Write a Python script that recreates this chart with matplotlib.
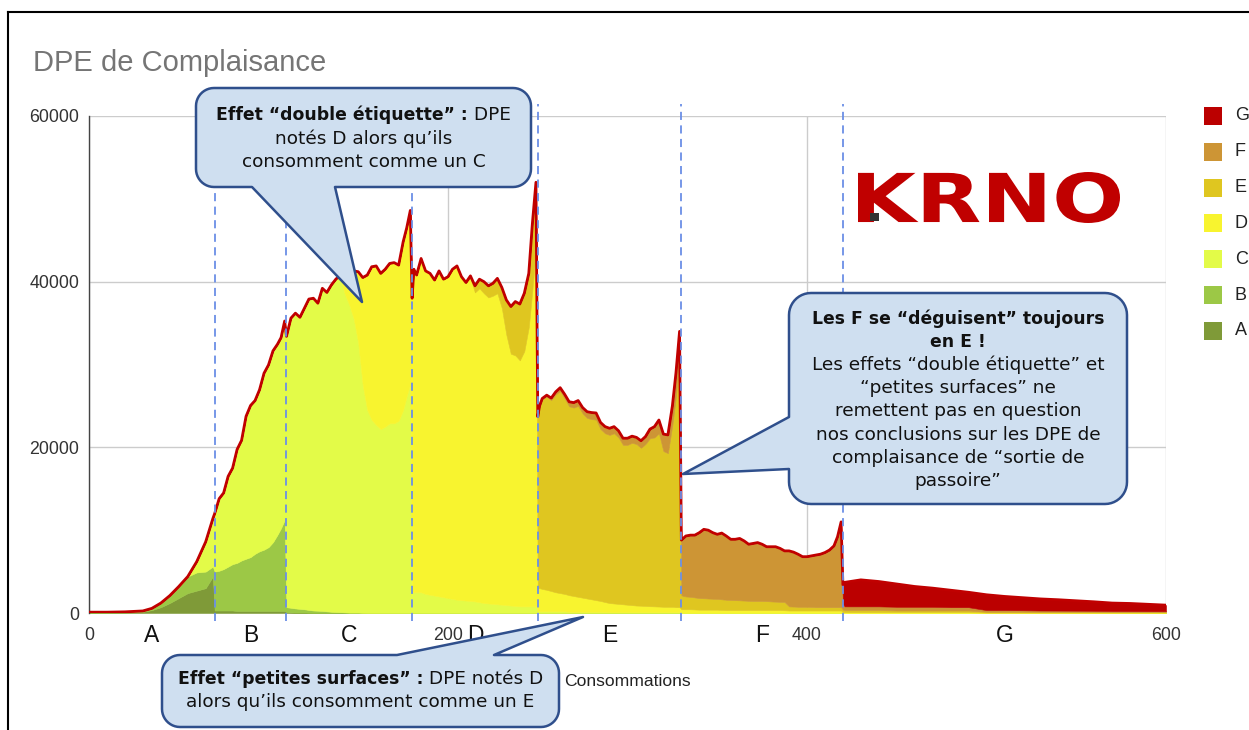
import matplotlib
matplotlib.use("Agg")
import matplotlib.pyplot as plt
import numpy as np
from matplotlib.font_manager import FontProperties
from matplotlib.lines import Line2D
from matplotlib.patches import PathPatch, Polygon, Rectangle
from matplotlib.textpath import TextPath
from matplotlib.transforms import Affine2D, blended_transform_factory

W, H = 1249, 730
BASE_FONT = "Liberation Sans"
NOTE_FONT = "DejaVu Sans"

# consumption (kWh/m2/an) and number of DPE per label, stacked A -> G
consumption = [
    0, 5, 10, 15, 20, 25, 30, 35, 40, 45, 50, 55, 60, 65, 69,
    70, 72.5, 75, 77.5, 80, 82.5, 85, 87.5, 90, 92.5, 95, 97.5, 100, 102.5, 105, 107, 109,
    110, 112.5, 115, 117.5, 120, 122.5, 125, 127.5, 130, 132.5, 135, 137.5, 140, 142.5, 145,
    147.5, 150, 152.5, 155, 157.5, 160, 162.5, 165, 167.5, 170, 172.5, 175, 177, 179,
    180, 181, 182.5, 185, 187.5, 190, 192.5, 195, 197.5, 200, 202.5, 205, 207.5, 210, 212.5,
    215, 217.5, 220, 222.5, 225, 227.5, 230, 232.5, 235, 237.5, 240, 242.5, 245, 247, 249,
    250, 251, 252.5, 255, 257.5, 260, 262.5, 265, 267.5, 270, 272.5, 275, 277.5, 280, 282.5, 285, 287.5,
    290, 292.5, 295, 297.5, 300, 302.5, 305, 307.5, 310, 312.5, 315, 317.5, 320, 322.5, 325, 327, 329,
    330, 331, 332.5, 335, 337.5, 340, 342.5, 345, 347.5, 350, 352.5, 355, 357.5, 360, 362.5, 365, 367.5, 370, 372.5,
    375, 377.5, 380, 382.5, 385, 387.5, 390, 392.5, 395, 397.5, 400, 402.5, 405, 407.5, 410, 412.5, 415, 417, 419,
    420, 421, 430, 440, 450, 460, 470, 480, 490, 500, 510, 520, 530, 540, 550, 560, 570, 580, 590, 600,
]
count_a = [
    50, 50, 50, 60, 70, 100, 150, 350, 700, 1200, 1800, 2400, 2700, 3000, 4400,
    300, 300, 300, 300, 300, 250, 250, 250, 250, 250, 250, 250, 250, 250, 250, 250, 250,
    100, 80, 50, 50, 50, 20, 0, 0, 0, 0, 0, 0, 0, 0, 0,
    0, 0, 0, 0, 0, 0, 0, 0, 0, 0, 0, 0, 0, 0,
    0, 0, 0, 0, 0, 0, 0, 0, 0, 0, 0, 0, 0, 0, 0,
    0, 0, 0, 0, 0, 0, 0, 0, 0, 0, 0, 0, 0, 0, 0,
    0, 0, 0, 0, 0, 0, 0, 0, 0, 0, 0, 0, 0, 0, 0, 0, 0,
    0, 0, 0, 0, 0, 0, 0, 0, 0, 0, 0, 0, 0, 0, 0, 0, 0,
    0, 0, 0, 0, 0, 0, 0, 0, 0, 0, 0, 0, 0, 0, 0, 0, 0, 0, 0,
    0, 0, 0, 0, 0, 0, 0, 0, 0, 0, 0, 0, 0, 0, 0, 0, 0, 0, 0,
    0, 0, 0, 0, 0, 0, 0, 0, 0, 0, 0, 0, 0, 0, 0, 0, 0, 0, 0, 0,
]
count_b = [
    50, 50, 50, 60, 70, 100, 100, 210, 500, 900, 1400, 2000, 2200, 2000, 1200,
    4700, 4800, 5000, 5300, 5600, 5800, 6100, 6300, 6500, 6900, 7200, 7400, 7700, 8300, 9200, 10000, 11000,
    600, 550, 500, 450, 400, 350, 300, 280, 250, 200, 150, 120, 100, 80, 50,
    50, 50, 20, 0, 0, 0, 0, 0, 0, 0, 0, 0, 0, 0,
    0, 0, 0, 0, 0, 0, 0, 0, 0, 0, 0, 0, 0, 0, 0,
    0, 0, 0, 0, 0, 0, 0, 0, 0, 0, 0, 0, 0, 0, 0,
    0, 0, 0, 0, 0, 0, 0, 0, 0, 0, 0, 0, 0, 0, 0, 0, 0,
    0, 0, 0, 0, 0, 0, 0, 0, 0, 0, 0, 0, 0, 0, 0, 0, 0,
    0, 0, 0, 0, 0, 0, 0, 0, 0, 0, 0, 0, 0, 0, 0, 0, 0, 0, 0,
    0, 0, 0, 0, 0, 0, 0, 0, 0, 0, 0, 0, 0, 0, 0, 0, 0, 0, 0,
    0, 0, 0, 0, 0, 0, 0, 0, 0, 0, 0, 0, 0, 0, 0, 0, 0, 0, 0, 0,
]
count_c = [
    0, 0, 0, 0, 0, 0, 0, 0, 0, 0, 0, 0, 1300, 3600, 5800,
    7000, 8700, 9200, 10900, 11600, 13700, 14500, 17200, 18300, 18500, 19500, 21300, 22000, 23100, 23000, 23000, 24000,
    32700, 34970, 35650, 35200, 36350, 37530, 37700, 37120, 38950, 38500, 39450, 40180, 40400, 38420, 37150,
    35450, 32550, 27480, 24500, 23300, 22700, 22200, 22500, 22900, 22900, 23200, 24500, 26200, 27700,
    2500, 2500, 2500, 2500, 2300, 2200, 2100, 2000, 1900, 1800, 1700, 1600, 1550, 1500, 1450,
    1400, 1300, 1200, 1150, 1100, 1050, 1000, 950, 900, 850, 800, 800, 800, 800, 800,
    200, 200, 200, 200, 200, 200, 200, 200, 150, 150, 150, 150, 150, 150, 150, 150, 120,
    100, 100, 100, 100, 100, 100, 100, 100, 100, 100, 100, 100, 100, 100, 100, 100, 100,
    50, 50, 50, 50, 50, 50, 50, 50, 50, 50, 50, 50, 50, 50, 50, 50, 50, 50, 50,
    50, 50, 50, 50, 50, 50, 50, 50, 50, 50, 50, 50, 50, 50, 50, 50, 50, 50, 50,
    0, 0, 0, 0, 0, 0, 0, 0, 0, 0, 0, 0, 0, 0, 0, 0, 0, 0, 0, 0,
]
count_d = [
    0, 0, 0, 0, 0, 0, 0, 0, 0, 0, 0, 0, 0, 0, 0,
    0, 0, 0, 0, 0, 0, 0, 0, 0, 0, 0, 0, 0, 0, 0, 0, 0,
    0, 0, 0, 0, 0, 0, 0, 0, 0, 0, 0, 0, 300, 1500, 3400,
    5800, 8600, 13000, 16300, 18500, 19200, 18800, 19000, 19300, 19400, 18800, 20300, 20300, 20900,
    35500, 39000, 38300, 40300, 39000, 38800, 38100, 39300, 38400, 38800, 39800, 40300, 39050, 38400, 38950,
    37300, 37900, 37400, 36950, 37200, 37550, 35800, 32650, 30400, 30250, 29700, 30800, 33700, 38200, 43000,
    2800, 2800, 2700, 2600, 2450, 2300, 2200, 2100, 2000, 1900, 1800, 1700, 1600, 1500, 1400, 1300, 1200,
    1100, 1050, 1000, 950, 900, 850, 800, 780, 750, 720, 700, 680, 650, 650, 650, 600, 600,
    400, 400, 400, 400, 380, 350, 350, 350, 350, 350, 320, 300, 300, 300, 300, 300, 300, 300, 300,
    300, 300, 300, 300, 300, 280, 250, 250, 250, 250, 250, 250, 250, 250, 250, 250, 250, 250, 250,
    100, 100, 100, 100, 100, 100, 100, 100, 100, 50, 50, 50, 50, 50, 50, 50, 50, 50, 50, 50,
]
count_e = [
    0, 0, 0, 0, 0, 0, 0, 0, 0, 0, 0, 0, 0, 0, 0,
    0, 0, 0, 0, 0, 0, 0, 0, 0, 0, 0, 0, 0, 0, 0, 0, 0,
    0, 0, 0, 0, 0, 0, 0, 0, 0, 0, 0, 0, 0, 0, 0,
    0, 0, 0, 0, 0, 0, 0, 0, 0, 0, 0, 0, 0, 0,
    0, 0, 0, 0, 0, 0, 0, 0, 0, 0, 0, 0, 0, 0, 300,
    800, 1100, 1400, 1400, 1500, 1800, 2500, 4200, 5700, 6500, 6800, 7000, 6500, 8000, 8200,
    20700, 21900, 22900, 23300, 23050, 23900, 24400, 23600, 22800, 22750, 23050, 22250, 21800, 21750, 21800, 20750, 20380,
    20300, 20550, 20100, 19250, 19300, 19600, 19500, 19070, 19550, 20280, 20400, 20920, 18800, 18550, 22000, 25500, 30300,
    1700, 1600, 1550, 1500, 1450, 1400, 1380, 1350, 1320, 1300, 1280, 1250, 1220, 1200, 1180, 1150, 1120, 1100, 1100,
    1100, 1080, 1050, 1020, 1000, 1000, 500, 480, 450, 450, 450, 430, 400, 400, 400, 400, 400, 400, 400,
    300, 250, 250, 250, 200, 200, 200, 200, 200, 100, 100, 100, 80, 80, 80, 80, 60, 60, 60, 60,
]
count_f = [
    0, 0, 0, 0, 0, 0, 0, 0, 0, 0, 0, 0, 0, 0, 0,
    0, 0, 0, 0, 0, 0, 0, 0, 0, 0, 0, 0, 0, 0, 0, 0, 0,
    0, 0, 0, 0, 0, 0, 0, 0, 0, 0, 0, 0, 0, 0, 0,
    0, 0, 0, 0, 0, 0, 0, 0, 0, 0, 0, 0, 0, 0,
    0, 0, 0, 0, 0, 0, 0, 0, 0, 0, 0, 0, 0, 0, 0,
    0, 0, 0, 0, 0, 0, 0, 0, 0, 0, 0, 0, 0, 0, 0,
    0, 100, 100, 200, 250, 300, 400, 500, 550, 600, 650, 700, 750, 800, 800, 800, 800,
    800, 800, 800, 800, 800, 800, 800, 850, 900, 1100, 1300, 1600, 2050, 2200, 2250, 2800, 3000,
    6650, 6950, 7300, 7450, 7520, 7900, 8320, 8250, 7980, 7800, 8000, 7700, 7330, 7350, 7470, 7200, 6830, 6950, 7050,
    6850, 6570, 6600, 6630, 6450, 6170, 6700, 6570, 6350, 6050, 6050, 6170, 6300, 6400, 6600, 6900, 7400, 8500, 10300,
    700, 450, 450, 450, 450, 450, 450, 400, 400, 200, 200, 180, 170, 160, 150, 140, 130, 120, 110, 100,
]
count_g = [
    0, 0, 0, 0, 0, 0, 0, 0, 0, 0, 0, 0, 0, 0, 0,
    0, 0, 0, 0, 0, 0, 0, 0, 0, 0, 0, 0, 0, 0, 0, 0, 0,
    0, 0, 0, 0, 0, 0, 0, 0, 0, 0, 0, 0, 0, 0, 0,
    0, 0, 0, 0, 0, 0, 0, 0, 0, 0, 0, 0, 0, 0,
    0, 0, 0, 0, 0, 0, 0, 0, 0, 0, 0, 0, 0, 0, 0,
    0, 0, 0, 0, 0, 0, 0, 0, 0, 0, 0, 0, 0, 0, 0,
    0, 0, 0, 0, 0, 0, 0, 0, 0, 0, 0, 0, 0, 0, 0, 0, 0,
    0, 0, 0, 0, 0, 0, 0, 0, 0, 0, 0, 0, 0, 0, 0, 0, 0,
    0, 0, 0, 0, 0, 0, 0, 0, 0, 0, 0, 0, 0, 0, 0, 0, 0, 0, 0,
    0, 0, 0, 0, 0, 0, 0, 0, 0, 0, 0, 0, 0, 0, 0, 0, 0, 0, 0,
    2300, 2900, 3200, 3000, 2750, 2450, 2250, 2050, 1800, 1850, 1650, 1520, 1400, 1310, 1200, 1080, 960, 920, 830, 740,
]

labels = ["A", "B", "C", "D", "E", "F", "G"]
thresholds = [70, 110, 180, 250, 330, 420]
x_ticks = [0, 200, 400, 600]
y_ticks = [0, 20000, 40000, 60000]
colors = ["#7f9a38", "#9cc846", "#e3fb48", "#f8f42f", "#dfc620", "#cd9535", "#bb0000"]

note_fill = "#cfdff0"
note_edge = "#2f4f8c"


def fx(x):
    return x / W


def fy(y):
    return 1 - y / H


def callout_verts(box, r, edge, base, tip):
    x0, y0, x1, y1 = box

    def arc(cx, cy, a0, a1):
        t = np.radians(np.linspace(a0, a1, 12))
        return list(zip(cx + r * np.cos(t), cy + r * np.sin(t)))

    pts = arc(x0 + r, y0 + r, 180, 270)
    if edge == "top":
        pts += [(min(base), y0), tip, (max(base), y0)]
    pts += arc(x1 - r, y0 + r, 270, 360)
    if edge == "right":
        pts += [(x1, min(base)), tip, (x1, max(base))]
    pts += arc(x1 - r, y1 - r, 0, 90)
    if edge == "bottom":
        pts += [(max(base), y1), tip, (min(base), y1)]
    pts += arc(x0 + r, y1 - r, 90, 180)
    if edge == "left":
        pts += [(x0, max(base)), tip, (x0, min(base))]
    return [(fx(x), fy(y)) for x, y in pts]


def note_line(fig, renderer, cx, cy, parts):
    items = []
    for s, bold in parts:
        t = fig.text(0, 0, s, fontsize=12.4 if bold else 13.3, fontweight="bold" if bold else "normal",
                     family=NOTE_FONT, color="#111111", ha="left", va="center", zorder=7)
        items.append((t, t.get_window_extent(renderer).width))
    x = cx - sum(w for _, w in items) / 2
    for t, w in items:
        t.set_position((fx(x), fy(cy)))
        x += w


def draw_note(fig, renderer, box, r, edge, base, tip, lines, y_first, step):
    poly = Polygon(callout_verts(box, r, edge, base, tip), closed=True, transform=fig.transFigure,
                   facecolor=note_fill, edgecolor=note_edge, lw=1.8, joinstyle="round", zorder=6)
    fig.add_artist(poly)
    cx = (box[0] + box[2]) / 2
    for i, parts in enumerate(lines):
        note_line(fig, renderer, cx, y_first + i * step, parts)


def draw_logo(fig):
    tp = TextPath((0, 0), "KRNO", size=50, prop=FontProperties(family="DejaVu Sans", weight="bold"))
    bb = tp.get_extents()
    left, top, right, bottom = 858, 172, 1120, 223
    tr = (Affine2D().translate(-bb.x0, -bb.y0)
          .scale((right - left) / bb.width / W, (bottom - top) / bb.height / H)
          .translate(fx(left), fy(bottom)) + fig.transFigure)
    fig.add_artist(PathPatch(tp, transform=tr, facecolor="#c00000", edgecolor="none", zorder=4))
    fig.add_artist(Rectangle((fx(870), fy(221)), 9 / W, 8 / H, transform=fig.transFigure,
                             facecolor="#333333", edgecolor="none", zorder=5))


def main():
    fig = plt.figure(figsize=(W / 100, H / 100), dpi=100)
    ax = fig.add_axes([fx(89), fy(613), (1166 - 89) / W, (613 - 116) / H])

    layers = [count_a, count_b, count_c, count_d, count_e, count_f, count_g]
    for layer in layers:
        assert len(layer) == len(consumption), (len(layer), len(consumption))

    polys = ax.stackplot(consumption, *layers, colors=colors, zorder=2)
    for p, c in zip(polys, colors):
        p.set_edgecolor(c)
        p.set_linewidth(0.4)
    total = np.sum(np.array(layers), axis=0)
    ax.plot(consumption, total, color="#c00000", lw=2.0, solid_joinstyle="round", zorder=3)

    ax.vlines(thresholds, -1000, 61400, colors="#6b8fe6", linestyles=(0, (4.5, 3)), lw=1.3,
              clip_on=False, zorder=4)

    ax.set_xlim(0, 600)
    ax.set_ylim(0, 60000)
    ax.set_xticks(x_ticks)
    ax.set_xticklabels([str(v) for v in x_ticks])
    ax.set_yticks(y_ticks)
    ax.set_yticklabels([str(v) for v in y_ticks])
    ax.tick_params(length=0, labelsize=12.8, labelcolor="#333333")
    ax.tick_params(axis="x", pad=10)
    ax.tick_params(axis="y", pad=7)
    for lab in ax.get_xticklabels() + ax.get_yticklabels():
        lab.set_family(BASE_FONT)
    ax.grid(True, color="#cccccc", lw=1)
    ax.set_axisbelow(True)
    for side in ["top", "right", "bottom"]:
        ax.spines[side].set_visible(False)
    ax.spines["left"].set_color("#444444")
    ax.spines["left"].set_linewidth(1)

    # class letters under the axis, centred in each band
    edges = [0] + thresholds + [600]
    trans = blended_transform_factory(ax.transData, fig.transFigure)
    for i, lab in enumerate(labels):
        ax.text((edges[i] + edges[i + 1]) / 2, fy(635), lab, transform=trans, ha="center",
                va="center", fontsize=16.5, family=BASE_FONT, color="#111111")
    fig.text(fx(627), fy(681), "Consommations", ha="center", va="center", fontsize=12.6,
             family=BASE_FONT, color="#222222")

    fig.text(fx(33), fy(63), "DPE de Complaisance", ha="left", va="center", fontsize=21,
             family=BASE_FONT, color="#757575")

    # legend, G on top
    for i, (lab, c) in enumerate(zip(labels[::-1], colors[::-1])):
        yc = 116 + i * 35.8
        fig.add_artist(Rectangle((fx(1204), fy(yc + 9)), 18 / W, 18 / H, transform=fig.transFigure,
                                 facecolor=c, edgecolor="none"))
        fig.text(fx(1235), fy(yc), lab, ha="left", va="center", fontsize=13, family=BASE_FONT,
                 color="#222222")

    draw_logo(fig)

    renderer = fig.canvas.get_renderer()
    draw_note(fig, renderer, (196, 88, 531, 187), 18, "bottom", (252, 335), (362, 302), [
        [("Effet “double étiquette” :", True), (" DPE", False)],
        [("notés D alors qu’ils", False)],
        [("consomment comme un C", False)],
    ], 115, 23.5)
    draw_note(fig, renderer, (789, 293, 1127, 504), 22, "left", (417, 469), (683, 474), [
        [("Les F se “déguisent” toujours", True)],
        [("en E !", True)],
        [("Les effets “double étiquette” et", False)],
        [("“petites surfaces” ne", False)],
        [("remettent pas en question", False)],
        [("nos conclusions sur les DPE de", False)],
        [("complaisance de “sortie de", False)],
        [("passoire”", False)],
    ], 319, 23.1)
    draw_note(fig, renderer, (162, 655, 559, 727), 18, "top", (397, 494), (583, 617), [
        [("Effet “petites surfaces” :", True), (" DPE notés D", False)],
        [("alors qu’ils consomment comme un E", False)],
    ], 679, 23.2)

    # screenshot frame
    fig.add_artist(Line2D([fx(8), fx(8)], [0, fy(12)], color="black", lw=1.5, transform=fig.transFigure))
    fig.add_artist(Line2D([fx(8), 1], [fy(12), fy(12)], color="black", lw=1.5, transform=fig.transFigure))

    fig.savefig("out.png", dpi=100)
    plt.close(fig)


if __name__ == "__main__":
    main()
